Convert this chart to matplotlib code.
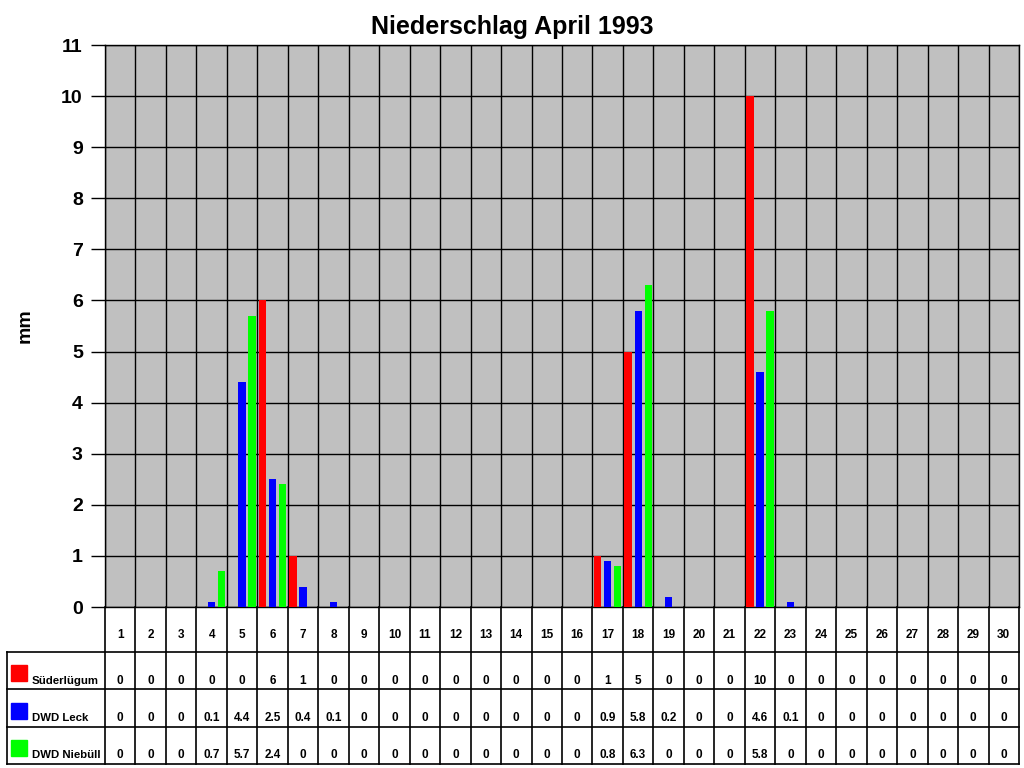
import matplotlib
matplotlib.use("Agg")
import matplotlib.pyplot as plt
import numpy as np

plt.rcParams['font.family'] = ['Liberation Sans', 'DejaVu Sans']

# Tageswerte April 1993 (mm)
days = list(range(1, 31))
suederluegum = [0, 0, 0, 0, 0, 6, 1, 0, 0, 0, 0, 0, 0, 0, 0,
                0, 1, 5, 0, 0, 0, 10, 0, 0, 0, 0, 0, 0, 0, 0]
dwd_leck = [0, 0, 0, 0.1, 4.4, 2.5, 0.4, 0.1, 0, 0, 0, 0, 0, 0, 0,
            0, 0.9, 5.8, 0.2, 0, 0, 4.6, 0.1, 0, 0, 0, 0, 0, 0, 0]
dwd_niebuell = [0, 0, 0, 0.7, 5.7, 2.4, 0, 0, 0, 0, 0, 0, 0, 0, 0,
                0, 0.8, 6.3, 0, 0, 0, 5.8, 0, 0, 0, 0, 0, 0, 0, 0]
series = [("Süderlügum", suederluegum, "#FF0000"),
          ("DWD Leck", dwd_leck, "#0000FF"),
          ("DWD Niebüll", dwd_niebuell, "#00FF00")]

W, H = 1024, 768
fig = plt.figure(figsize=(10.24, 7.68), dpi=100)

# Diagrammbereich
x0, x1, ytop, ybot = 105, 1019, 45, 607
ax = fig.add_axes([x0 / W, 1 - ybot / H, (x1 - x0) / W, (ybot - ytop) / H])
ax.set_facecolor("#C0C0C0")
n = len(days)
x = np.arange(n) + 0.5
for k, (name, vals, col) in enumerate(series):
    ax.bar(x + (k - 1) * 0.33, vals, width=0.24, color=col, zorder=3)
ax.set_xlim(0, n)
ax.set_ylim(0, 11)
ax.set_yticks(range(0, 12))
ax.set_yticklabels([str(v) for v in range(0, 12)], fontsize=14, fontweight="bold")
ax.set_xticks(range(0, n + 1))
ax.set_xticklabels([])
ax.tick_params(axis="x", length=0)
ax.tick_params(axis="y", length=10, width=1, pad=6)
ax.grid(True, color="black", linewidth=1, zorder=1)
ax.set_axisbelow(True)
for s in ax.spines.values():
    s.set_color("black")
    s.set_linewidth(1)
fig.text(25 / W, 1 - 326 / H, "mm", rotation=90, ha="center", va="center",
         fontsize=14, fontweight="bold")
fig.text(512 / W, 1 - 27 / H, "Niederschlag April 1993", ha="center", va="center",
         fontsize=18, fontweight="bold")

# Datentabelle
tbot = 764
axt = fig.add_axes([x0 / W, 1 - tbot / H, (x1 - x0) / W, (tbot - ybot) / H])
axt.set_xlim(0, n)
axt.set_ylim(0, tbot - ybot)
axt.axis("off")
ppx = n / (x1 - x0)
lab_left = -(x0 - 7) * ppx
row_lines = [tbot - 652, tbot - 689, tbot - 727, 0]
for i in range(n + 1):
    axt.plot([i, i], [0, tbot - ybot], color="black", lw=1.2, clip_on=False)
axt.plot([lab_left, lab_left], [0, row_lines[0]], color="black", lw=1.2, clip_on=False)
for yl in row_lines:
    axt.plot([lab_left, n], [yl, yl], color="black", lw=1.2, clip_on=False)

fs = 8.5
for i, d in enumerate(days):
    axt.text(i + 0.5, tbot - 635, str(d), ha="center", va="center",
             fontsize=fs, fontweight="bold")
row_text_y = [tbot - 681, tbot - 718, tbot - 755]
sq_top = [tbot - 665, tbot - 703, tbot - 740]
for r, (name, vals, col) in enumerate(series):
    for i, v in enumerate(vals):
        axt.text(i + 0.5, row_text_y[r], f"{v:g}", ha="center", va="center",
                 fontsize=fs, fontweight="bold")
    axt.add_patch(plt.Rectangle((-(x0 - 11) * ppx, sq_top[r] - 16), 16 * ppx, 16,
                                color=col, clip_on=False))
    axt.text(-(x0 - 32) * ppx, row_text_y[r], name, ha="left", va="center",
             fontsize=8.2, fontweight="bold", clip_on=False)

fig.savefig("out.png", dpi=100)
